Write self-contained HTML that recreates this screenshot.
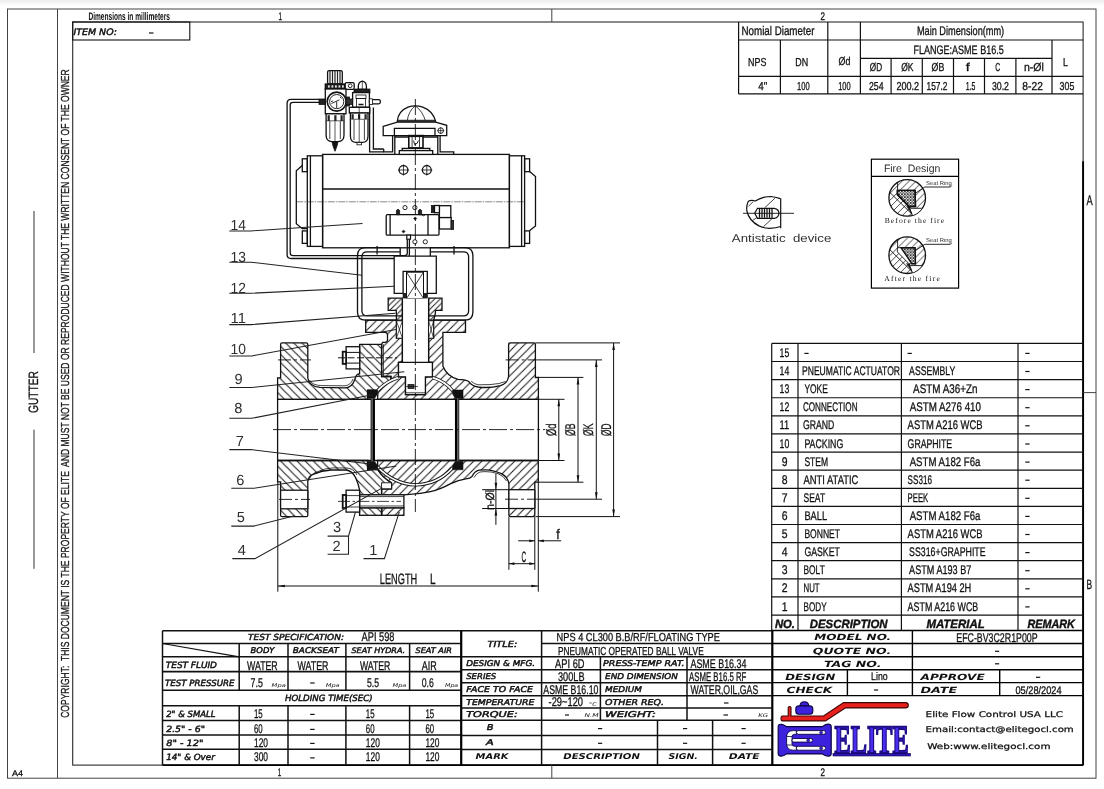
<!DOCTYPE html>
<html lang="en"><head><meta charset="utf-8"><title>EFC-BV3C2R1P00P Pneumatic Operated Ball Valve</title>
<style>
html,body{margin:0;padding:0;background:#fff;}
body{width:1104px;height:789px;overflow:hidden;}
svg{display:block;will-change:transform;transform:translateZ(0);}
text{font-family:"Liberation Sans",sans-serif;fill:#111;text-rendering:geometricPrecision;}
.n{font-family:"Liberation Sans",sans-serif;stroke:#111;stroke-width:0.3;}
.nb{font-family:"Liberation Sans",sans-serif;font-weight:bold;}
.nbi{font-family:"Liberation Sans",sans-serif;font-weight:bold;font-style:italic;stroke:#111;stroke-width:0.4;}
.lt{font-family:"Liberation Sans",sans-serif;fill:#2e2e2e;}
.d{font-family:"DejaVu Sans",sans-serif;stroke:#111;stroke-width:0.25;}
.di{font-family:"DejaVu Sans",sans-serif;font-style:italic;stroke:#111;stroke-width:0.45;}
.dit{font-family:"DejaVu Sans",sans-serif;font-style:italic;}
.dbi{font-family:"DejaVu Sans",sans-serif;font-style:italic;font-weight:bold;}
.sf{font-family:"Liberation Serif",serif;}
.logo{font-family:"Liberation Serif",serif;font-weight:bold;fill:#4a2ef0;stroke:#1d0c86;stroke-width:1.9;}
</style></head><body>
<svg width="1104" height="789" viewBox="0 0 1104 789">
<defs>
<pattern id="ha" width="8.2" height="8.2" patternUnits="userSpaceOnUse"><path d="M-1,9.2 L9.2,-1 M-1,1 L1,-1 M7.2,9.2 L9.2,7.2" stroke="#1a1a1a" stroke-width="1.05" fill="none"/></pattern>
<pattern id="hb" width="8.2" height="8.2" patternUnits="userSpaceOnUse"><path d="M-1,-1 L9.2,9.2 M7.2,-1 L9.2,1 M-1,7.2 L1,9.2" stroke="#1a1a1a" stroke-width="1.05" fill="none"/></pattern>
<pattern id="hg" width="5.6" height="5.6" patternUnits="userSpaceOnUse"><path d="M-1,6.6 L6.6,-1 M-1,1 L1,-1 M4.6,6.6 L6.6,4.6" stroke="#1a1a1a" stroke-width="0.95" fill="none"/></pattern>
<pattern id="hf" width="6.9" height="6.9" patternUnits="userSpaceOnUse"><path d="M-1,7.9 L7.9,-1 M-1,1 L1,-1 M5.9,7.9 L7.9,5.9" stroke="#1a1a1a" stroke-width="0.8" fill="none"/></pattern>
<pattern id="hs" width="3" height="3" patternUnits="userSpaceOnUse"><path d="M-1,4 L4,-1 M-1,1 L1,-1 M2,4 L4,2" stroke="#1a1a1a" stroke-width="0.6" fill="none"/></pattern>
<pattern id="hx" width="2.9" height="2.9" patternUnits="userSpaceOnUse"><path d="M0,0 L2.9,2.9 M2.9,0 L0,2.9" stroke="#111" stroke-width="0.8" fill="none"/></pattern>
<linearGradient id="tg" x1="0" y1="0" x2="0" y2="1"><stop offset="0" stop-color="#ededed"/><stop offset="1" stop-color="#ffffff"/></linearGradient>
</defs>
<rect x="0" y="0" width="1104" height="789" fill="#fff"/>
<rect x="0" y="0" width="1104" height="6" fill="url(#tg)"/>
<g id="frame">
<rect x="7.5" y="9" width="1088.5" height="769.2" stroke="#444" stroke-width="1" fill="none" />
<line x1="57.5" y1="9" x2="57.5" y2="778.2" stroke="#444" stroke-width="1" />
<rect x="72.7" y="22" width="1010.4" height="743.1" stroke="#2a2a2a" stroke-width="1.1" fill="none" />
<line x1="1083.1" y1="161.3" x2="1083.1" y2="765.1" stroke="#000" stroke-width="1.9" />
<line x1="162.5" y1="765.1" x2="1083.1" y2="765.1" stroke="#000" stroke-width="1.6" />
<line x1="551.8" y1="9" x2="551.8" y2="22" stroke="#444" stroke-width="1" />
<line x1="551.8" y1="765.1" x2="551.8" y2="778.2" stroke="#444" stroke-width="1" />
<line x1="1083.2" y1="392.6" x2="1096" y2="392.6" stroke="#444" stroke-width="1" />
<text x="280.2" y="19.5" class="n" font-size="11" text-anchor="middle" textLength="3.5" lengthAdjust="spacingAndGlyphs" >1</text>
<text x="822.8" y="19.5" class="n" font-size="11" text-anchor="middle" textLength="4.5" lengthAdjust="spacingAndGlyphs" >2</text>
<text x="279.5" y="775.5" class="n" font-size="11" text-anchor="middle" textLength="3.5" lengthAdjust="spacingAndGlyphs" >1</text>
<text x="822.8" y="775.5" class="n" font-size="11" text-anchor="middle" textLength="4.5" lengthAdjust="spacingAndGlyphs" >2</text>
<text x="1086.4" y="204.6" class="n" font-size="13.8" textLength="6.2" lengthAdjust="spacingAndGlyphs" >A</text>
<text x="1086.4" y="589.3" class="n" font-size="13.4" textLength="5.6" lengthAdjust="spacingAndGlyphs" >B</text>
<text x="12" y="776" class="n" font-size="8" textLength="11" lengthAdjust="spacingAndGlyphs" >A4</text>
<text x="88.4" y="19.5" class="nb" font-size="11" textLength="81.6" lengthAdjust="spacingAndGlyphs" >Dimensions in millimeters</text>
<rect x="72.7" y="22" width="117.1" height="18" stroke="#111" stroke-width="1.1" fill="none" />
<text x="73.4" y="35" class="di" font-size="9" textLength="43.6" lengthAdjust="spacingAndGlyphs" >ITEM NO:</text>
<line x1="149" y1="33" x2="153.5" y2="33" stroke="#111" stroke-width="1.2" />
<g transform="translate(37.9,413) rotate(-90)">
<text x="0" y="0" class="n" font-size="13.5" textLength="42" lengthAdjust="spacingAndGlyphs" >GUTTER</text>
</g>
<line x1="34" y1="211" x2="34" y2="353" stroke="#333" stroke-width="1" />
<line x1="34" y1="429.7" x2="34" y2="568.8" stroke="#333" stroke-width="1" />
<g transform="translate(69,717.8) rotate(-90)">
<text x="0" y="0" class="n" font-size="11.6" textLength="648.5" lengthAdjust="spacingAndGlyphs" xml:space="preserve">COPYRIGHT:  THIS DOCUMENT IS THE PROPERTY OF ELITE  AND MUST NOT BE USED OR REPRODUCED WITHOUT THE WRITTEN CONSENT OF THE OWNER</text>
</g>
</g>
<g id="toptable">
<line x1="738.6" y1="22" x2="738.6" y2="93.9" stroke="#111" stroke-width="1.2" />
<line x1="738.6" y1="93.9" x2="1083.2" y2="93.9" stroke="#111" stroke-width="1.2" />
<line x1="738.6" y1="40" x2="1083.2" y2="40" stroke="#111" stroke-width="1.2" />
<line x1="860.4" y1="58.3" x2="1052" y2="58.3" stroke="#111" stroke-width="1.2" />
<line x1="738.6" y1="76.4" x2="1083.2" y2="76.4" stroke="#111" stroke-width="1.2" />
<line x1="780.4" y1="40" x2="780.4" y2="93.9" stroke="#111" stroke-width="1.2" />
<line x1="827.8" y1="22" x2="827.8" y2="93.9" stroke="#111" stroke-width="1.2" />
<line x1="860.4" y1="22" x2="860.4" y2="93.9" stroke="#111" stroke-width="1.2" />
<line x1="891.1" y1="58.3" x2="891.1" y2="93.9" stroke="#111" stroke-width="1.2" />
<line x1="922.3" y1="58.3" x2="922.3" y2="93.9" stroke="#111" stroke-width="1.2" />
<line x1="953.5" y1="58.3" x2="953.5" y2="93.9" stroke="#111" stroke-width="1.2" />
<line x1="984.5" y1="58.3" x2="984.5" y2="93.9" stroke="#111" stroke-width="1.2" />
<line x1="1015.9" y1="58.3" x2="1015.9" y2="93.9" stroke="#111" stroke-width="1.2" />
<line x1="1052" y1="40" x2="1052" y2="93.9" stroke="#111" stroke-width="1.2" />
<text x="741.5" y="35.3" class="n" font-size="12.5" textLength="72.9" lengthAdjust="spacingAndGlyphs" >Nomial Diameter</text>
<text x="916.9" y="35.3" class="n" font-size="12.5" textLength="87.3" lengthAdjust="spacingAndGlyphs" >Main Dimension(mm)</text>
<text x="913.5" y="54" class="n" font-size="12.3" textLength="90.2" lengthAdjust="spacingAndGlyphs" >FLANGE:ASME B16.5</text>
<text x="748.1" y="65.5" class="n" font-size="11.5" textLength="18.3" lengthAdjust="spacingAndGlyphs" >NPS</text>
<text x="795.3" y="65.5" class="n" font-size="11.5" textLength="12.9" lengthAdjust="spacingAndGlyphs" >DN</text>
<text x="838.6" y="64.6" class="n" font-size="11.5" textLength="11.8" lengthAdjust="spacingAndGlyphs" >Ød</text>
<text x="869.8" y="70.6" class="n" font-size="11.5" textLength="12.3" lengthAdjust="spacingAndGlyphs" >ØD</text>
<text x="901.2" y="70.6" class="n" font-size="11.5" textLength="12.3" lengthAdjust="spacingAndGlyphs" >ØK</text>
<text x="931.6" y="70.6" class="n" font-size="11.5" textLength="12.7" lengthAdjust="spacingAndGlyphs" >ØB</text>
<text x="965.8" y="70.6" class="n" font-size="11.5" textLength="4.0" lengthAdjust="spacingAndGlyphs" >f</text>
<text x="995.3" y="70.6" class="n" font-size="11.5" textLength="5.0" lengthAdjust="spacingAndGlyphs" >C</text>
<text x="1023.9" y="70.6" class="n" font-size="11.5" textLength="19.9" lengthAdjust="spacingAndGlyphs" >n-Øl</text>
<text x="1062.9" y="65.6" class="n" font-size="11.5" textLength="4.9" lengthAdjust="spacingAndGlyphs" >L</text>
<text x="758.2" y="90.4" class="n" font-size="11.5" textLength="9.0" lengthAdjust="spacingAndGlyphs" >4"</text>
<text x="797" y="90.4" class="n" font-size="11.5" textLength="12.6" lengthAdjust="spacingAndGlyphs" >100</text>
<text x="838.2" y="90.4" class="n" font-size="11.5" textLength="12.5" lengthAdjust="spacingAndGlyphs" >100</text>
<text x="869" y="90.4" class="n" font-size="11.5" textLength="14.6" lengthAdjust="spacingAndGlyphs" >254</text>
<text x="896.4" y="90.4" class="n" font-size="11.5" textLength="22.8" lengthAdjust="spacingAndGlyphs" >200.2</text>
<text x="926.5" y="90.4" class="n" font-size="11.5" textLength="20.9" lengthAdjust="spacingAndGlyphs" >157.2</text>
<text x="965.8" y="90.4" class="n" font-size="11.5" textLength="9.6" lengthAdjust="spacingAndGlyphs" >1.5</text>
<text x="991.9" y="90.4" class="n" font-size="11.5" textLength="17.1" lengthAdjust="spacingAndGlyphs" >30.2</text>
<text x="1022.3" y="90.4" class="n" font-size="11.5" textLength="20.6" lengthAdjust="spacingAndGlyphs" >8-22</text>
<text x="1059.6" y="90.4" class="n" font-size="11.5" textLength="14.7" lengthAdjust="spacingAndGlyphs" >305</text>
</g>
<g id="parts">
<line x1="771.7" y1="343.4" x2="1083.2" y2="343.4" stroke="#111" stroke-width="1.2" />
<line x1="771.7" y1="343.4" x2="771.7" y2="630.5" stroke="#111" stroke-width="1.2" />
<line x1="798" y1="343.4" x2="798" y2="630.5" stroke="#111" stroke-width="1.2" />
<line x1="901.4" y1="343.4" x2="901.4" y2="630.5" stroke="#111" stroke-width="1.2" />
<line x1="1018" y1="343.4" x2="1018" y2="630.5" stroke="#111" stroke-width="1.2" />
<line x1="771.7" y1="361.51" x2="1083.2" y2="361.51" stroke="#111" stroke-width="1.2" />
<line x1="771.7" y1="379.62" x2="1083.2" y2="379.62" stroke="#111" stroke-width="1.2" />
<line x1="771.7" y1="397.73" x2="1083.2" y2="397.73" stroke="#111" stroke-width="1.2" />
<line x1="771.7" y1="415.84" x2="1083.2" y2="415.84" stroke="#111" stroke-width="1.2" />
<line x1="771.7" y1="433.95" x2="1083.2" y2="433.95" stroke="#111" stroke-width="1.2" />
<line x1="771.7" y1="452.06" x2="1083.2" y2="452.06" stroke="#111" stroke-width="1.2" />
<line x1="771.7" y1="470.17" x2="1083.2" y2="470.17" stroke="#111" stroke-width="1.2" />
<line x1="771.7" y1="488.28" x2="1083.2" y2="488.28" stroke="#111" stroke-width="1.2" />
<line x1="771.7" y1="506.39" x2="1083.2" y2="506.39" stroke="#111" stroke-width="1.2" />
<line x1="771.7" y1="524.5" x2="1083.2" y2="524.5" stroke="#111" stroke-width="1.2" />
<line x1="771.7" y1="542.61" x2="1083.2" y2="542.61" stroke="#111" stroke-width="1.2" />
<line x1="771.7" y1="560.72" x2="1083.2" y2="560.72" stroke="#111" stroke-width="1.2" />
<line x1="771.7" y1="578.83" x2="1083.2" y2="578.83" stroke="#111" stroke-width="1.2" />
<line x1="771.7" y1="596.94" x2="1083.2" y2="596.94" stroke="#111" stroke-width="1.2" />
<line x1="771.7" y1="615.05" x2="1083.2" y2="615.05" stroke="#111" stroke-width="1.2" />
<text x="779.6" y="357.0" class="n" font-size="12.5" textLength="9.7" lengthAdjust="spacingAndGlyphs" >15</text>
<line x1="804.4" y1="353.4" x2="808.6" y2="353.4" stroke="#111" stroke-width="1.2" />
<line x1="907.6" y1="353.4" x2="911.8" y2="353.4" stroke="#111" stroke-width="1.2" />
<line x1="1025.3" y1="353.4" x2="1029.6" y2="353.4" stroke="#111" stroke-width="1.2" />
<text x="779.6" y="375.1" class="n" font-size="12.5" textLength="9.7" lengthAdjust="spacingAndGlyphs" >14</text>
<text x="802" y="375.1" class="n" font-size="12.5" textLength="98" lengthAdjust="spacingAndGlyphs" >PNEUMATIC ACTUATOR</text>
<text x="909.1" y="375.1" class="n" font-size="12.5" textLength="46.1" lengthAdjust="spacingAndGlyphs" >ASSEMBLY</text>
<line x1="1025.3" y1="371.5" x2="1029.6" y2="371.5" stroke="#111" stroke-width="1.2" />
<text x="779.6" y="393.2" class="n" font-size="12.5" textLength="9.7" lengthAdjust="spacingAndGlyphs" >13</text>
<text x="804.4" y="393.2" class="n" font-size="12.5" textLength="23.4" lengthAdjust="spacingAndGlyphs" >YOKE</text>
<text x="913.1" y="393.2" class="n" font-size="12.5" textLength="64.3" lengthAdjust="spacingAndGlyphs" >ASTM A36+Zn</text>
<line x1="1025.3" y1="389.59999999999997" x2="1029.6" y2="389.59999999999997" stroke="#111" stroke-width="1.2" />
<text x="779.6" y="411.3" class="n" font-size="12.5" textLength="9.7" lengthAdjust="spacingAndGlyphs" >12</text>
<text x="802.9" y="411.3" class="n" font-size="12.5" textLength="54.6" lengthAdjust="spacingAndGlyphs" >CONNECTION</text>
<text x="909.7" y="411.3" class="n" font-size="12.5" textLength="71.3" lengthAdjust="spacingAndGlyphs" >ASTM A276 410</text>
<line x1="1025.3" y1="407.7" x2="1029.6" y2="407.7" stroke="#111" stroke-width="1.2" />
<text x="779.6" y="429.4" class="n" font-size="12.5" textLength="9.7" lengthAdjust="spacingAndGlyphs" >11</text>
<text x="802.9" y="429.4" class="n" font-size="12.5" textLength="31.3" lengthAdjust="spacingAndGlyphs" >GRAND</text>
<text x="907.6" y="429.4" class="n" font-size="12.5" textLength="74.9" lengthAdjust="spacingAndGlyphs" >ASTM A216 WCB</text>
<line x1="1025.3" y1="425.79999999999995" x2="1029.6" y2="425.79999999999995" stroke="#111" stroke-width="1.2" />
<text x="779.6" y="447.6" class="n" font-size="12.5" textLength="9.7" lengthAdjust="spacingAndGlyphs" >10</text>
<text x="804.4" y="447.6" class="n" font-size="12.5" textLength="38.9" lengthAdjust="spacingAndGlyphs" >PACKING</text>
<text x="907.6" y="447.6" class="n" font-size="12.5" textLength="44.6" lengthAdjust="spacingAndGlyphs" >GRAPHITE</text>
<line x1="1025.3" y1="444.0" x2="1029.6" y2="444.0" stroke="#111" stroke-width="1.2" />
<text x="781.8" y="465.7" class="n" font-size="12.5" textLength="5.8" lengthAdjust="spacingAndGlyphs" >9</text>
<text x="804.4" y="465.7" class="n" font-size="12.5" textLength="23.7" lengthAdjust="spacingAndGlyphs" >STEM</text>
<text x="909.7" y="465.7" class="n" font-size="12.5" textLength="70.7" lengthAdjust="spacingAndGlyphs" >ASTM A182 F6a</text>
<line x1="1025.3" y1="462.09999999999997" x2="1029.6" y2="462.09999999999997" stroke="#111" stroke-width="1.2" />
<text x="781.8" y="483.8" class="n" font-size="12.5" textLength="5.8" lengthAdjust="spacingAndGlyphs" >8</text>
<text x="803.5" y="483.8" class="n" font-size="12.5" textLength="54.9" lengthAdjust="spacingAndGlyphs" >ANTI ATATIC</text>
<text x="907.6" y="483.8" class="n" font-size="12.5" textLength="24.3" lengthAdjust="spacingAndGlyphs" >SS316</text>
<line x1="1025.3" y1="480.2" x2="1029.6" y2="480.2" stroke="#111" stroke-width="1.2" />
<text x="781.8" y="501.9" class="n" font-size="12.5" textLength="5.8" lengthAdjust="spacingAndGlyphs" >7</text>
<text x="803.5" y="501.9" class="n" font-size="12.5" textLength="21.6" lengthAdjust="spacingAndGlyphs" >SEAT</text>
<text x="907.6" y="501.9" class="n" font-size="12.5" textLength="20.6" lengthAdjust="spacingAndGlyphs" >PEEK</text>
<line x1="1025.3" y1="498.29999999999995" x2="1029.6" y2="498.29999999999995" stroke="#111" stroke-width="1.2" />
<text x="781.8" y="520.0" class="n" font-size="12.5" textLength="5.8" lengthAdjust="spacingAndGlyphs" >6</text>
<text x="804.4" y="520.0" class="n" font-size="12.5" textLength="22.8" lengthAdjust="spacingAndGlyphs" >BALL</text>
<text x="909.7" y="520.0" class="n" font-size="12.5" textLength="70.7" lengthAdjust="spacingAndGlyphs" >ASTM A182 F6a</text>
<line x1="1025.3" y1="516.4" x2="1029.6" y2="516.4" stroke="#111" stroke-width="1.2" />
<text x="781.8" y="538.1" class="n" font-size="12.5" textLength="5.8" lengthAdjust="spacingAndGlyphs" >5</text>
<text x="804.4" y="538.1" class="n" font-size="12.5" textLength="35.6" lengthAdjust="spacingAndGlyphs" >BONNET</text>
<text x="907.6" y="538.1" class="n" font-size="12.5" textLength="74.9" lengthAdjust="spacingAndGlyphs" >ASTM A216 WCB</text>
<line x1="1025.3" y1="534.5" x2="1029.6" y2="534.5" stroke="#111" stroke-width="1.2" />
<text x="781.8" y="556.2" class="n" font-size="12.5" textLength="5.8" lengthAdjust="spacingAndGlyphs" >4</text>
<text x="804.4" y="556.2" class="n" font-size="12.5" textLength="35.5" lengthAdjust="spacingAndGlyphs" >GASKET</text>
<text x="909.1" y="556.2" class="n" font-size="12.5" textLength="76.5" lengthAdjust="spacingAndGlyphs" >SS316+GRAPHITE</text>
<line x1="1025.3" y1="552.6" x2="1029.6" y2="552.6" stroke="#111" stroke-width="1.2" />
<text x="781.8" y="574.3" class="n" font-size="12.5" textLength="5.8" lengthAdjust="spacingAndGlyphs" >3</text>
<text x="803.5" y="574.3" class="n" font-size="12.5" textLength="21.3" lengthAdjust="spacingAndGlyphs" >BOLT</text>
<text x="909.1" y="574.3" class="n" font-size="12.5" textLength="62.2" lengthAdjust="spacingAndGlyphs" >ASTM A193 B7</text>
<line x1="1025.3" y1="570.6999999999999" x2="1029.6" y2="570.6999999999999" stroke="#111" stroke-width="1.2" />
<text x="781.8" y="592.4" class="n" font-size="12.5" textLength="5.8" lengthAdjust="spacingAndGlyphs" >2</text>
<text x="803.5" y="592.4" class="n" font-size="12.5" textLength="16.1" lengthAdjust="spacingAndGlyphs" >NUT</text>
<text x="907.6" y="592.4" class="n" font-size="12.5" textLength="63.7" lengthAdjust="spacingAndGlyphs" >ASTM A194 2H</text>
<line x1="1025.3" y1="588.8" x2="1029.6" y2="588.8" stroke="#111" stroke-width="1.2" />
<text x="781.8" y="610.5" class="n" font-size="12.5" textLength="5.8" lengthAdjust="spacingAndGlyphs" >1</text>
<text x="803.5" y="610.5" class="n" font-size="12.5" textLength="23.1" lengthAdjust="spacingAndGlyphs" >BODY</text>
<text x="907.6" y="610.5" class="n" font-size="12.5" textLength="70.7" lengthAdjust="spacingAndGlyphs" >ASTM A216 WCB</text>
<line x1="1025.3" y1="606.9" x2="1029.6" y2="606.9" stroke="#111" stroke-width="1.2" />
<line x1="771.7" y1="630.5" x2="1083.2" y2="630.5" stroke="#000" stroke-width="1.6" />
<text x="774.9" y="627.6" class="nbi" font-size="12" textLength="20.0" lengthAdjust="spacingAndGlyphs" >NO.</text>
<text x="809.8" y="627.6" class="nbi" font-size="12" textLength="77.8" lengthAdjust="spacingAndGlyphs" >DESCRIPTION</text>
<text x="926.4" y="627.6" class="nbi" font-size="12" textLength="58.3" lengthAdjust="spacingAndGlyphs" >MATERIAL</text>
<text x="1027.4" y="627.6" class="nbi" font-size="12" textLength="47.5" lengthAdjust="spacingAndGlyphs" >REMARK</text>
</g>
<g id="titleblock">
<line x1="162.5" y1="630.8" x2="162.5" y2="765.1" stroke="#111" stroke-width="1.5" />
<line x1="162.5" y1="630.8" x2="772.3" y2="630.8" stroke="#111" stroke-width="1.5" />
<line x1="162.5" y1="643.5" x2="461.2" y2="643.5" stroke="#111" stroke-width="1.5" />
<line x1="162.5" y1="656.8" x2="461.2" y2="656.8" stroke="#111" stroke-width="1.5" />
<line x1="162.5" y1="671.6" x2="461.2" y2="671.6" stroke="#111" stroke-width="1.6" />
<line x1="162.5" y1="690.3" x2="461.2" y2="690.3" stroke="#111" stroke-width="1.5" />
<line x1="162.5" y1="705.8" x2="461.2" y2="705.8" stroke="#111" stroke-width="1.5" />
<line x1="162.5" y1="720.6" x2="461.2" y2="720.6" stroke="#111" stroke-width="1.5" />
<line x1="162.5" y1="735.1" x2="461.2" y2="735.1" stroke="#111" stroke-width="1.5" />
<line x1="162.5" y1="749.2" x2="461.2" y2="749.2" stroke="#111" stroke-width="1.5" />
<line x1="239.2" y1="643.5" x2="239.2" y2="690.3" stroke="#111" stroke-width="1.5" />
<line x1="239.2" y1="705.8" x2="239.2" y2="765.1" stroke="#111" stroke-width="1.5" />
<line x1="288" y1="643.5" x2="288" y2="690.3" stroke="#111" stroke-width="1.5" />
<line x1="288" y1="705.8" x2="288" y2="765.1" stroke="#111" stroke-width="1.5" />
<line x1="345.9" y1="643.5" x2="345.9" y2="690.3" stroke="#111" stroke-width="1.5" />
<line x1="345.9" y1="705.8" x2="345.9" y2="765.1" stroke="#111" stroke-width="1.5" />
<line x1="409.6" y1="643.5" x2="409.6" y2="690.3" stroke="#111" stroke-width="1.5" />
<line x1="409.6" y1="705.8" x2="409.6" y2="765.1" stroke="#111" stroke-width="1.5" />
<line x1="162.5" y1="643.5" x2="239.2" y2="656.8" stroke="#111" stroke-width="1.2" />
<text x="248" y="639.9" class="di" font-size="8.4" textLength="96" lengthAdjust="spacingAndGlyphs" >TEST SPECIFICATION:</text>
<text x="361.6" y="641" class="n" font-size="12.6" textLength="32.9" lengthAdjust="spacingAndGlyphs" >API 598</text>
<text x="250.6" y="652.8" class="di" font-size="8" textLength="23.9" lengthAdjust="spacingAndGlyphs" >BODY</text>
<text x="292.8" y="652.8" class="di" font-size="8" textLength="46.1" lengthAdjust="spacingAndGlyphs" >BACKSEAT</text>
<text x="351.5" y="652.8" class="di" font-size="7.6" textLength="53.7" lengthAdjust="spacingAndGlyphs" >SEAT HYDRA.</text>
<text x="415.5" y="652.8" class="di" font-size="7.6" textLength="36.5" lengthAdjust="spacingAndGlyphs" >SEAT AIR</text>
<text x="165.8" y="667.9" class="di" font-size="8.6" textLength="51.2" lengthAdjust="spacingAndGlyphs" >TEST FLUID</text>
<text x="165" y="686.4" class="di" font-size="8.6" textLength="69.6" lengthAdjust="spacingAndGlyphs" >TEST PRESSURE</text>
<text x="247" y="669.6" class="n" font-size="12.6" textLength="30.7" lengthAdjust="spacingAndGlyphs" >WATER</text>
<text x="297.6" y="669.6" class="n" font-size="12.6" textLength="30.9" lengthAdjust="spacingAndGlyphs" >WATER</text>
<text x="360" y="669.6" class="n" font-size="12.6" textLength="30.3" lengthAdjust="spacingAndGlyphs" >WATER</text>
<text x="421.7" y="669.6" class="n" font-size="12.6" textLength="14.9" lengthAdjust="spacingAndGlyphs" >AIR</text>
<text x="250.6" y="686.7" class="n" font-size="12.6" textLength="12.3" lengthAdjust="spacingAndGlyphs" >7.5</text>
<line x1="310.2" y1="683" x2="314.6" y2="683" stroke="#111" stroke-width="1.2" />
<text x="367" y="686.7" class="n" font-size="12.6" textLength="12" lengthAdjust="spacingAndGlyphs" >5.5</text>
<text x="421.7" y="686.7" class="n" font-size="12.6" textLength="12.1" lengthAdjust="spacingAndGlyphs" >0.6</text>
<text x="271.6" y="686.9" class="dit" font-size="5" textLength="14.2" lengthAdjust="spacingAndGlyphs" >Mpa</text>
<text x="325.7" y="686.9" class="dit" font-size="5" textLength="14.0" lengthAdjust="spacingAndGlyphs" >Mpa</text>
<text x="392.5" y="686.9" class="dit" font-size="5" textLength="13.8" lengthAdjust="spacingAndGlyphs" >Mpa</text>
<text x="445" y="686.9" class="dit" font-size="5" textLength="13.2" lengthAdjust="spacingAndGlyphs" >Mpa</text>
<text x="285" y="701.4" class="di" font-size="8.6" textLength="87.6" lengthAdjust="spacingAndGlyphs" >HOLDING TIME(SEC)</text>
<text x="166.2" y="716.8" class="di" font-size="8.6" textLength="49.4" lengthAdjust="spacingAndGlyphs" >2" &amp; SMALL</text>
<text x="166.2" y="731.7" class="di" font-size="8.6" textLength="38.8" lengthAdjust="spacingAndGlyphs" >2.5" - 6"</text>
<text x="166.2" y="745.6" class="di" font-size="8.6" textLength="37.3" lengthAdjust="spacingAndGlyphs" >8" - 12"</text>
<text x="166.2" y="759.8" class="di" font-size="8.6" textLength="48.6" lengthAdjust="spacingAndGlyphs" >14" &amp; Over</text>
<text x="254" y="717.9" class="n" font-size="12.6" textLength="8.7" lengthAdjust="spacingAndGlyphs" >15</text>
<line x1="310.2" y1="714.4" x2="314.6" y2="714.4" stroke="#111" stroke-width="1.2" />
<text x="365.8" y="717.9" class="n" font-size="12.6" textLength="8.7" lengthAdjust="spacingAndGlyphs" >15</text>
<text x="425.4" y="717.9" class="n" font-size="12.6" textLength="8.7" lengthAdjust="spacingAndGlyphs" >15</text>
<text x="254" y="732.9" class="n" font-size="12.6" textLength="8.7" lengthAdjust="spacingAndGlyphs" >60</text>
<line x1="310.2" y1="729.4" x2="314.6" y2="729.4" stroke="#111" stroke-width="1.2" />
<text x="365.8" y="732.9" class="n" font-size="12.6" textLength="8.7" lengthAdjust="spacingAndGlyphs" >60</text>
<text x="425.4" y="732.9" class="n" font-size="12.6" textLength="8.7" lengthAdjust="spacingAndGlyphs" >60</text>
<text x="254" y="746.9" class="n" font-size="12.6" textLength="14" lengthAdjust="spacingAndGlyphs" >120</text>
<line x1="310.2" y1="743.4" x2="314.6" y2="743.4" stroke="#111" stroke-width="1.2" />
<text x="365.8" y="746.9" class="n" font-size="12.6" textLength="14.0" lengthAdjust="spacingAndGlyphs" >120</text>
<text x="425.4" y="746.9" class="n" font-size="12.6" textLength="14.0" lengthAdjust="spacingAndGlyphs" >120</text>
<text x="254" y="761.4" class="n" font-size="12.6" textLength="14" lengthAdjust="spacingAndGlyphs" >300</text>
<line x1="310.2" y1="757.9" x2="314.6" y2="757.9" stroke="#111" stroke-width="1.2" />
<text x="365.8" y="761.4" class="n" font-size="12.6" textLength="14.0" lengthAdjust="spacingAndGlyphs" >120</text>
<text x="425.4" y="761.4" class="n" font-size="12.6" textLength="14.0" lengthAdjust="spacingAndGlyphs" >120</text>
<line x1="461.2" y1="630.8" x2="461.2" y2="765.1" stroke="#000" stroke-width="2.2" />
<line x1="772.3" y1="630.8" x2="772.3" y2="765.1" stroke="#000" stroke-width="2.2" />
<line x1="541.6" y1="643.4" x2="772.3" y2="643.4" stroke="#111" stroke-width="1.5" />
<line x1="461.2" y1="656.7" x2="772.3" y2="656.7" stroke="#111" stroke-width="1.5" />
<line x1="461.2" y1="669.8" x2="772.3" y2="669.8" stroke="#111" stroke-width="1.5" />
<line x1="461.2" y1="682.7" x2="772.3" y2="682.7" stroke="#111" stroke-width="1.5" />
<line x1="461.2" y1="695.8" x2="772.3" y2="695.8" stroke="#111" stroke-width="1.5" />
<line x1="461.2" y1="708.1" x2="772.3" y2="708.1" stroke="#111" stroke-width="1.5" />
<line x1="461.2" y1="720.2" x2="772.3" y2="720.2" stroke="#111" stroke-width="1.5" />
<line x1="461.2" y1="735.4" x2="772.3" y2="735.4" stroke="#111" stroke-width="1.5" />
<line x1="461.2" y1="749.5" x2="772.3" y2="749.5" stroke="#111" stroke-width="1.5" />
<line x1="541.6" y1="630.8" x2="541.6" y2="765.1" stroke="#111" stroke-width="1.5" />
<line x1="600.4" y1="656.8" x2="600.4" y2="720.2" stroke="#111" stroke-width="1.5" />
<line x1="687" y1="656.8" x2="687" y2="720.2" stroke="#111" stroke-width="1.5" />
<line x1="657.5" y1="720.2" x2="657.5" y2="765.1" stroke="#111" stroke-width="1.5" />
<line x1="712.6" y1="720.2" x2="712.6" y2="765.1" stroke="#111" stroke-width="1.5" />
<text x="487.4" y="647.1" class="di" font-size="8.4" textLength="30.0" lengthAdjust="spacingAndGlyphs" >TITLE:</text>
<text x="556.6" y="641.2" class="n" font-size="11.5" textLength="163.3" lengthAdjust="spacingAndGlyphs" >NPS 4 CL300 B.B/RF/FLOATING TYPE</text>
<text x="558" y="655.3" class="n" font-size="11.5" textLength="145.7" lengthAdjust="spacingAndGlyphs" >PNEUMATIC OPERATED BALL VALVE</text>
<text x="466.2" y="665.5" class="di" font-size="8" textLength="68.9" lengthAdjust="spacingAndGlyphs" >DESIGN &amp; MFG.</text>
<text x="466.2" y="678.9" class="di" font-size="8" textLength="30.0" lengthAdjust="spacingAndGlyphs" >SERIES</text>
<text x="466.2" y="691.8" class="di" font-size="8" textLength="66.8" lengthAdjust="spacingAndGlyphs" >FACE TO FACE</text>
<text x="466.2" y="704.8" class="di" font-size="8" textLength="68.3" lengthAdjust="spacingAndGlyphs" >TEMPERATURE</text>
<text x="466.2" y="716.6" class="di" font-size="8" textLength="51.5" lengthAdjust="spacingAndGlyphs" >TORQUE:</text>
<text x="603.1" y="665.5" class="di" font-size="8" textLength="81.5" lengthAdjust="spacingAndGlyphs" >PRESS-TEMP RAT.</text>
<text x="605.1" y="678.9" class="di" font-size="8" textLength="72.7" lengthAdjust="spacingAndGlyphs" >END DIMENSION</text>
<text x="605.1" y="691.8" class="di" font-size="8" textLength="36.8" lengthAdjust="spacingAndGlyphs" >MEDIUM</text>
<text x="605.1" y="704.8" class="di" font-size="8" textLength="58.9" lengthAdjust="spacingAndGlyphs" >OTHER REQ.</text>
<text x="605.1" y="716.6" class="di" font-size="8" textLength="50.9" lengthAdjust="spacingAndGlyphs" >WEIGHT:</text>
<text x="555.1" y="668.3" class="n" font-size="12.6" textLength="29.4" lengthAdjust="spacingAndGlyphs" >API 6D</text>
<text x="558" y="680.9" class="n" font-size="12.6" textLength="26.5" lengthAdjust="spacingAndGlyphs" >300LB</text>
<text x="543.3" y="693.5" class="n" font-size="12.6" textLength="55.1" lengthAdjust="spacingAndGlyphs" >ASME B16.10</text>
<text x="548.6" y="706.2" class="n" font-size="12.6" textLength="34.4" lengthAdjust="spacingAndGlyphs" >-29~120</text>
<text x="589" y="706" class="dit" font-size="5" textLength="7.5" lengthAdjust="spacingAndGlyphs" >°C</text>
<text x="690.5" y="668.3" class="n" font-size="12.6" textLength="55.9" lengthAdjust="spacingAndGlyphs" >ASME B16.34</text>
<text x="689" y="680.9" class="n" font-size="12.6" textLength="57.4" lengthAdjust="spacingAndGlyphs" >ASME B16.5 RF</text>
<text x="690.5" y="693.5" class="n" font-size="12.6" textLength="67.7" lengthAdjust="spacingAndGlyphs" >WATER,OIL,GAS</text>
<line x1="724" y1="703" x2="728.5" y2="703" stroke="#111" stroke-width="1.2" />
<line x1="565" y1="715" x2="569" y2="715" stroke="#111" stroke-width="1.2" />
<text x="584.5" y="717.1" class="dit" font-size="5" textLength="14.2" lengthAdjust="spacingAndGlyphs" >N.M</text>
<line x1="723.5" y1="715" x2="728" y2="715" stroke="#111" stroke-width="1.2" />
<text x="758.2" y="717.1" class="dit" font-size="5" textLength="9.8" lengthAdjust="spacingAndGlyphs" >KG</text>
<text x="486.8" y="730.1" class="di" font-size="8" textLength="6.8" lengthAdjust="spacingAndGlyphs" >B</text>
<text x="485.9" y="744.8" class="di" font-size="8" textLength="7.7" lengthAdjust="spacingAndGlyphs" >A</text>
<line x1="598" y1="728.6" x2="602.2" y2="728.6" stroke="#111" stroke-width="1.2" />
<line x1="683" y1="728.6" x2="687.2" y2="728.6" stroke="#111" stroke-width="1.2" />
<line x1="741.5" y1="728.6" x2="745.7" y2="728.6" stroke="#111" stroke-width="1.2" />
<line x1="598" y1="743.3" x2="602.2" y2="743.3" stroke="#111" stroke-width="1.2" />
<line x1="683" y1="743.3" x2="687.2" y2="743.3" stroke="#111" stroke-width="1.2" />
<line x1="741.5" y1="743.3" x2="745.7" y2="743.3" stroke="#111" stroke-width="1.2" />
<text x="475.6" y="758.9" class="dbi" font-size="8" textLength="33.0" lengthAdjust="spacingAndGlyphs" >MARK</text>
<text x="563.3" y="758.9" class="dbi" font-size="8" textLength="76.6" lengthAdjust="spacingAndGlyphs" >DESCRIPTION</text>
<text x="668.4" y="758.9" class="dbi" font-size="8" textLength="29.5" lengthAdjust="spacingAndGlyphs" >SIGN.</text>
<text x="728.8" y="758.9" class="dbi" font-size="8" textLength="30.9" lengthAdjust="spacingAndGlyphs" >DATE</text>
<line x1="772.3" y1="643.5" x2="1083.2" y2="643.5" stroke="#000" stroke-width="1.4" />
<line x1="772.3" y1="656.7" x2="1083.2" y2="656.7" stroke="#000" stroke-width="1.4" />
<line x1="772.3" y1="669.8" x2="1083.2" y2="669.8" stroke="#000" stroke-width="1.4" />
<line x1="772.3" y1="682.6" x2="1083.2" y2="682.6" stroke="#000" stroke-width="1.4" />
<line x1="772.3" y1="695.6" x2="1083.2" y2="695.6" stroke="#000" stroke-width="1.4" />
<line x1="912.4" y1="630.5" x2="912.4" y2="695.6" stroke="#000" stroke-width="1.4" />
<line x1="847.4" y1="669.8" x2="847.4" y2="695.6" stroke="#000" stroke-width="1.4" />
<line x1="999.7" y1="669.8" x2="999.7" y2="695.6" stroke="#000" stroke-width="1.4" />
<text x="814.3" y="640.4" class="dbi" font-size="8.6" textLength="76.9" lengthAdjust="spacingAndGlyphs" >MODEL NO.</text>
<text x="812.8" y="653.5" class="dbi" font-size="8.6" textLength="78.4" lengthAdjust="spacingAndGlyphs" >QUOTE NO.</text>
<text x="823.9" y="666.5" class="dbi" font-size="8.6" textLength="57.6" lengthAdjust="spacingAndGlyphs" >TAG NO.</text>
<text x="785.3" y="679.5" class="dbi" font-size="8.6" textLength="50.0" lengthAdjust="spacingAndGlyphs" >DESIGN</text>
<text x="786.5" y="692.8" class="dbi" font-size="8.6" textLength="45.8" lengthAdjust="spacingAndGlyphs" >CHECK</text>
<text x="920.5" y="679.5" class="dbi" font-size="8.6" textLength="64.2" lengthAdjust="spacingAndGlyphs" >APPROVE</text>
<text x="920.5" y="692.8" class="dbi" font-size="8.6" textLength="36.7" lengthAdjust="spacingAndGlyphs" >DATE</text>
<text x="956.3" y="642" class="n" font-size="12.6" textLength="81.3" lengthAdjust="spacingAndGlyphs" >EFC-BV3C2R1P00P</text>
<line x1="995" y1="651.3" x2="999.2" y2="651.3" stroke="#111" stroke-width="1.2" />
<line x1="995" y1="663.8" x2="999.2" y2="663.8" stroke="#111" stroke-width="1.2" />
<text x="871.1" y="680.3" class="n" font-size="11" textLength="16.5" lengthAdjust="spacingAndGlyphs" >Lino</text>
<line x1="874" y1="690" x2="878.2" y2="690" stroke="#111" stroke-width="1.2" />
<line x1="1036" y1="677.3" x2="1040.2" y2="677.3" stroke="#111" stroke-width="1.2" />
<text x="1015.5" y="693.7" class="n" font-size="11" textLength="46.1" lengthAdjust="spacingAndGlyphs" >05/28/2024</text>
<text x="925.6" y="716.5" class="d" font-size="7.9" textLength="137.4" lengthAdjust="spacingAndGlyphs" >Elite Flow Control USA LLC</text>
<text x="925.6" y="732.4" class="d" font-size="7.9" textLength="148.2" lengthAdjust="spacingAndGlyphs" >Email:contact@elitegocl.com</text>
<text x="927.2" y="749.4" class="d" font-size="7.9" textLength="123.3" lengthAdjust="spacingAndGlyphs" >Web:www.elitegocl.com</text>
<path d="M782.5,716 L788.2,716 L788.2,707.5 Q788.2,706.5 789.6,706.5 Q791,706.5 791,707.5 L791,716 L823.5,716 L843.5,702.6 L905.5,702.6 Q908.3,702.6 908.3,705.2 Q908.3,707.9 905.5,707.9 L845.5,707.9 L825.5,720.9 L782.5,720.9 Q781,720.9 781,718.5 Q781,716 782.5,716 Z" stroke="#3a0505" stroke-width="1.1" fill="#e8201c" />
<path d="M800,706 Q800,701.8 804.3,701.8 Q808.7,701.8 808.7,706 Z" stroke="#0c0440" stroke-width="1.1" fill="#3d22dd" />
<rect x="795.8" y="705.9" width="17.0" height="8.3" stroke="#0c0440" stroke-width="1.1" fill="#3d22dd" rx="3" ry="3"/>
<path d="M778.2,727 Q778.2,723.8 781.5,724.3 Q784.5,724.8 786.5,726.6 L822.5,726.6 Q825,724.6 828,724.2 Q831.2,724 831.2,727 L831.2,753.4 Q831.2,756.4 828,756.1 Q825,755.8 822.5,753.9 L786.5,753.9 Q784.5,755.8 781.5,756.1 Q778.2,756.4 778.2,753.4 Z" stroke="#0c0440" stroke-width="1.2" fill="#3d22dd" />
<path d="M796.4,730.6 L793.4,730.6 Q786.6,730.6 786.6,737.4 L786.6,743.4 Q786.6,750.2 793.4,750.2 L796.4,750.2 L796.4,746.3 L794.6,746.3 Q792,746.3 792,743.8 L792,742.1 L792,738.5 L792,737 Q792,734.3 794.6,734.3 L796.4,734.3 Z" stroke="#0c0440" stroke-width="0.9" fill="#fff" />
<rect x="796.4" y="730.6" width="29.2" height="3.7" stroke="#0c0440" stroke-width="0.9" fill="#fff" rx="1.8"/>
<rect x="792" y="738.5" width="20.6" height="3.6" stroke="#0c0440" stroke-width="0.9" fill="#fff" rx="1.8"/>
<rect x="796.4" y="746.3" width="29.2" height="3.9" stroke="#0c0440" stroke-width="0.9" fill="#fff" rx="1.8"/>
<line x1="786.6" y1="736.5" x2="792" y2="736.5" stroke="#0c0440" stroke-width="0.8" />
<line x1="786.6" y1="745" x2="792" y2="745" stroke="#0c0440" stroke-width="0.8" />
<circle cx="821.1" cy="732.5" r="1.5" stroke="#0c0440" stroke-width="0.5" fill="#3d22dd" />
<circle cx="808.2" cy="740.3" r="1.5" stroke="#0c0440" stroke-width="0.5" fill="#3d22dd" />
<circle cx="821.1" cy="748.3" r="1.5" stroke="#0c0440" stroke-width="0.5" fill="#3d22dd" />
<text x="834.6" y="752.7" class="logo" font-size="40" textLength="74" lengthAdjust="spacingAndGlyphs" >ELITE</text>
<rect x="833" y="753.4" width="77.5" height="2.6" stroke="#105" stroke-width="0.6" fill="#2a18b0" />
</g>
<g id="drawing" stroke-linecap="butt" stroke-linejoin="miter">
<rect x="322.6" y="154.4" width="186.8" height="93.4" stroke="#111" stroke-width="1.3" fill="none" />
<line x1="322.6" y1="189" x2="509.4" y2="189" stroke="#111" stroke-width="1.3" />
<line x1="296.3" y1="201.8" x2="524.4" y2="201.8" stroke="#555" stroke-width="0.7" stroke-dasharray="7 1 1.5 1"/>
<rect x="307.3" y="155.8" width="15.3" height="90.6" stroke="#111" stroke-width="1.3" fill="none" />
<line x1="310.4" y1="155.8" x2="310.4" y2="246.4" stroke="#111" stroke-width="1.3" />
<rect x="302.3" y="158.8" width="5.0" height="12.9" stroke="#111" stroke-width="1.3" fill="none" />
<rect x="302.3" y="230.9" width="5.0" height="12.5" stroke="#111" stroke-width="1.3" fill="none" />
<path d="M302.2,165.6 L296.3,170.7 L296.3,223.8 L302.3,228.7 L307.3,228.7" stroke="#111" stroke-width="1.3" fill="none" />
<rect x="509.4" y="155.8" width="15.2" height="90.6" stroke="#111" stroke-width="1.3" fill="none" />
<line x1="521.6" y1="155.8" x2="521.6" y2="246.4" stroke="#111" stroke-width="1.3" />
<rect x="524.6" y="158.8" width="5.0" height="12.9" stroke="#111" stroke-width="1.3" fill="none" />
<rect x="524.6" y="230.9" width="5.0" height="12.5" stroke="#111" stroke-width="1.3" fill="none" />
<path d="M529.6,171.6 L535.5,176.5 L535.5,225.9 L529.7,230.5" stroke="#111" stroke-width="1.3" fill="none" />
<circle cx="403.5" cy="170" r="4.4" stroke="#111" stroke-width="1.3" fill="none" />
<line x1="398.0" y1="170" x2="409.0" y2="170" stroke="#111" stroke-width="0.8" />
<line x1="403.5" y1="164.5" x2="403.5" y2="175.5" stroke="#111" stroke-width="0.8" />
<circle cx="426.8" cy="170" r="4.4" stroke="#111" stroke-width="1.3" fill="none" />
<line x1="421.3" y1="170" x2="432.3" y2="170" stroke="#111" stroke-width="0.8" />
<line x1="426.8" y1="164.5" x2="426.8" y2="175.5" stroke="#111" stroke-width="0.8" />
<path d="M319,99.4 L291,99.4 Q287.1,99.4 287.1,103.4 L287.1,254.5 Q287.1,258.5 291.1,258.5 L405,258.5 Q409.4,258.5 409.4,254 L409.4,239.2" stroke="#111" stroke-width="1.3" fill="none" />
<path d="M319,102.3 L293,102.3 Q290.2,102.3 290.2,105 L290.2,253 Q290.2,255.6 293,255.6 L404.5,255.6 Q407.3,255.6 407.3,253 L407.3,239.2" stroke="#111" stroke-width="1.3" fill="none" />
<path d="M369.6,107.5 L369.6,151.9 L383.7,151.9" stroke="#111" stroke-width="1.3" fill="none" />
<path d="M373.4,107.5 L373.4,149 L383.7,149" stroke="#111" stroke-width="1.3" fill="none" />
<rect x="327.6" y="70.6" width="14.7" height="13.4" stroke="#111" stroke-width="1.3" fill="#fff" rx="1.5"/>
<line x1="330" y1="71" x2="330" y2="84" stroke="#222" stroke-width="1.2" />
<line x1="332.5" y1="71" x2="332.5" y2="84" stroke="#222" stroke-width="1.2" />
<line x1="335" y1="71" x2="335" y2="84" stroke="#222" stroke-width="1.2" />
<line x1="337.5" y1="71" x2="337.5" y2="84" stroke="#222" stroke-width="1.2" />
<line x1="340" y1="71" x2="340" y2="84" stroke="#222" stroke-width="1.2" />
<rect x="325.3" y="84" width="19.9" height="5" stroke="#111" stroke-width="1.3" fill="#222" />
<rect x="328" y="85.3" width="1.8" height="2.3" stroke="none" stroke-width="0" fill="#ddd" />
<rect x="331.5" y="85.3" width="1.8" height="2.3" stroke="none" stroke-width="0" fill="#ddd" />
<rect x="335" y="85.3" width="1.8" height="2.3" stroke="none" stroke-width="0" fill="#ddd" />
<rect x="338.5" y="85.3" width="1.8" height="2.3" stroke="none" stroke-width="0" fill="#ddd" />
<rect x="342" y="85.3" width="1.8" height="2.3" stroke="none" stroke-width="0" fill="#ddd" />
<rect x="345.2" y="82.6" width="9.0" height="6.7" stroke="#111" stroke-width="1.3" fill="#fff" rx="1.5"/>
<circle cx="350.2" cy="85.8" r="1.9" stroke="#111" stroke-width="0.9" fill="none" />
<rect x="325.3" y="89" width="20.7" height="24.8" stroke="#111" stroke-width="1.3" fill="#fff" />
<rect x="346" y="97" width="3.5" height="9" stroke="#111" stroke-width="0.8" fill="#333" />
<rect x="319" y="99" width="6.3" height="5.4" stroke="#111" stroke-width="0.8" fill="#222" />
<circle cx="336.7" cy="101.6" r="9.5" stroke="#111" stroke-width="1.6" fill="#fff" />
<circle cx="336.7" cy="101.6" r="7.1" stroke="#111" stroke-width="0.9" fill="none" />
<path d="M331.5,103.5 L339.5,99.8 M336.7,101.6 L336.7,108 M331,101.5 L333,101 M340,97 L341.5,98.5" stroke="#111" stroke-width="0.9" fill="none" />
<rect x="326.1" y="113.8" width="17.9" height="7.4" stroke="#111" stroke-width="1.3" fill="#fff" />
<rect x="327.6" y="115.2" width="2.2" height="6.0" stroke="none" stroke-width="0" fill="#222" />
<rect x="334.3" y="115.2" width="2.2" height="6.0" stroke="none" stroke-width="0" fill="#222" />
<rect x="340.5" y="115.2" width="2.2" height="6.0" stroke="none" stroke-width="0" fill="#222" />
<path d="M326.1,121.2 L326.1,135 Q326.1,141.6 332,141.6 L338,141.6 Q344,141.6 344,135 L344,121.2" stroke="#111" stroke-width="1.3" fill="#fff" />
<line x1="329.8" y1="121.2" x2="329.8" y2="139" stroke="#111" stroke-width="0.8" />
<line x1="340.3" y1="121.2" x2="340.3" y2="139" stroke="#111" stroke-width="0.8" />
<line x1="335" y1="121.2" x2="335" y2="141.6" stroke="#111" stroke-width="0.7" />
<path d="M332,141.8 L338,141.8 L337,146 L335,151.3 L333,146 Z" stroke="#111" stroke-width="0.8" fill="#111" />
<path d="M358.3,89.3 L358.3,86.5 Q358.3,82 362.3,81.2 Q366.4,82 366.4,86.5 L366.4,89.3 Z" stroke="#111" stroke-width="1.3" fill="#fff" />
<line x1="362.3" y1="81.2" x2="362.3" y2="89.3" stroke="#111" stroke-width="0.7" />
<rect x="354.2" y="89.3" width="15.5" height="3.3" stroke="#111" stroke-width="1.3" fill="#222" />
<rect x="352.6" y="92.6" width="16.8" height="14.7" stroke="#111" stroke-width="1.3" fill="#fff" />
<rect x="356" y="95" width="10" height="3.5" stroke="#111" stroke-width="0.8" fill="none" />
<rect x="356.5" y="98.5" width="9.0" height="8.8" stroke="#111" stroke-width="0.8" fill="none" />
<line x1="358.5" y1="104.5" x2="363.5" y2="104.5" stroke="#111" stroke-width="1.5" />
<rect x="346" y="99" width="6.6" height="5.4" stroke="#111" stroke-width="0.8" fill="#333" />
<rect x="369.4" y="99.6" width="10.9" height="4.2" stroke="#111" stroke-width="1.3" fill="#fff" rx="1.5"/>
<rect x="369.4" y="98.8" width="3.1" height="5.8" stroke="#111" stroke-width="0.8" fill="#fff" />
<rect x="349.3" y="107.3" width="20.4" height="5.7" stroke="#111" stroke-width="1.3" fill="#fff" />
<rect x="350.4" y="113" width="17.6" height="6.5" stroke="#111" stroke-width="1.3" fill="#fff" />
<rect x="351.5" y="114.2" width="2.2" height="5.3" stroke="none" stroke-width="0" fill="#222" />
<rect x="358" y="114.2" width="2.2" height="5.3" stroke="none" stroke-width="0" fill="#222" />
<rect x="364.5" y="114.2" width="2.2" height="5.3" stroke="none" stroke-width="0" fill="#222" />
<path d="M350.4,119.5 L350.4,136 Q350.4,142.4 356,142.4 L362.4,142.4 Q368,142.4 368,136 L368,119.5" stroke="#111" stroke-width="1.3" fill="#fff" />
<line x1="354" y1="119.5" x2="354" y2="140" stroke="#111" stroke-width="0.8" />
<line x1="364.4" y1="119.5" x2="364.4" y2="140" stroke="#111" stroke-width="0.8" />
<line x1="359.2" y1="107.3" x2="359.2" y2="142.4" stroke="#111" stroke-width="0.7" />
<rect x="357" y="142.4" width="4.6" height="2.4" stroke="#111" stroke-width="0.8" fill="#fff" />
<path d="M397.3,121.2 Q398.3,111 408,107.2 Q415.3,104.6 422.8,107.2 Q432.8,111 435.6,121.2 Z" stroke="#111" stroke-width="1.3" fill="#fff" />
<path d="M407.2,121 Q408.5,111 415.3,105.8 Q422.5,111 425.5,121" stroke="#111" stroke-width="0.8" fill="none" />
<rect x="397.3" y="120.1" width="38.3" height="2.1" stroke="#111" stroke-width="0.6" fill="#444" />
<path d="M383.2,126.3 L397.3,122.2 L435.6,122.2 L446.7,125.3 L446.7,135.6 L383.2,135.6 Z" stroke="#111" stroke-width="1.3" fill="#fff" />
<path d="M394.4,135.6 L394.4,128.4 L435,128.4 L435,135.6" stroke="#111" stroke-width="1.3" fill="none" />
<circle cx="440.7" cy="130.6" r="2.8" stroke="#111" stroke-width="0.9" fill="none" />
<line x1="437.2" y1="130.6" x2="444.2" y2="130.6" stroke="#111" stroke-width="0.7" />
<line x1="440.7" y1="127.2" x2="440.7" y2="134" stroke="#111" stroke-width="0.7" />
<line x1="394.8" y1="137" x2="437.8" y2="137" stroke="#111" stroke-width="1.3" />
<path d="M392.6,135.6 L392.6,151.9 L383.7,151.9 L383.7,149" stroke="#111" stroke-width="1.3" fill="none" />
<line x1="394.8" y1="135.6" x2="394.8" y2="154.4" stroke="#111" stroke-width="1.3" />
<line x1="437.8" y1="135.6" x2="437.8" y2="154.4" stroke="#111" stroke-width="1.3" />
<path d="M440.1,135.6 L440.1,151.9 L453.7,151.9 L453.7,154.4" stroke="#111" stroke-width="1.3" fill="none" />
<rect x="408.8" y="135.6" width="14.2" height="12.3" stroke="#111" stroke-width="1.6" fill="#fff" />
<line x1="408.8" y1="136.3" x2="423" y2="136.3" stroke="#111" stroke-width="1.6" />
<line x1="412.1" y1="137" x2="412.1" y2="147.9" stroke="#111" stroke-width="0.8" />
<line x1="419.5" y1="137" x2="419.5" y2="147.9" stroke="#111" stroke-width="0.8" />
<path d="M413.6,140.5 L414.6,144.6 L417.2,143.2 L418.4,140.5" stroke="#111" stroke-width="0.9" fill="none" />
<rect x="402.2" y="148.4" width="27.6" height="2.2" stroke="#111" stroke-width="1.3" fill="#fff" />
<rect x="399.3" y="150.6" width="33.4" height="3.8" stroke="#111" stroke-width="1.3" fill="#fff" />
<rect x="386.2" y="214.7" width="52.8" height="20.4" stroke="#111" stroke-width="1.3" fill="#fff" rx="1.2"/>
<line x1="390.1" y1="214.7" x2="390.1" y2="235.1" stroke="#111" stroke-width="1.3" />
<line x1="428" y1="214.7" x2="428" y2="235.1" stroke="#111" stroke-width="1.3" />
<rect x="439.4" y="205.7" width="11.4" height="11.9" stroke="#111" stroke-width="1.3" fill="#fff" />
<rect x="439.4" y="217.6" width="11.8" height="11.4" stroke="#111" stroke-width="1.3" fill="#fff" />
<rect x="431.4" y="205.5" width="3.1" height="7.2" stroke="#111" stroke-width="0.8" fill="#222" />
<rect x="434.5" y="205.5" width="4.9" height="7.2" stroke="#111" stroke-width="1.3" fill="#fff" />
<rect x="451.2" y="220.4" width="2.4" height="9.0" stroke="#111" stroke-width="0.8" fill="#333" />
<path d="M396.4,214.7 L396.4,210.5 Q398,208 399.6,210.5 L399.6,214.7 Z" stroke="#111" stroke-width="0.8" fill="#222" />
<path d="M418.4,214.7 L418.4,210.5 Q420,208 421.6,210.5 L421.6,214.7 Z" stroke="#111" stroke-width="0.8" fill="#222" />
<path d="M421.5,214.7 Q423,217 425,215" stroke="#111" stroke-width="0.8" fill="none" />
<circle cx="405" cy="207.6" r="2.1" stroke="#111" stroke-width="0.9" fill="#fff" />
<circle cx="414.9" cy="207.6" r="2.1" stroke="#111" stroke-width="0.9" fill="#fff" />
<circle cx="414.9" cy="241.8" r="2.1" stroke="#111" stroke-width="0.9" fill="#fff" />
<circle cx="425.3" cy="241.8" r="2.1" stroke="#111" stroke-width="0.9" fill="#fff" />
<path d="M413.59999999999997,218.5 L415.2,216.9 L416.8,218.5 L415.2,220.1 Z" stroke="#111" stroke-width="0.5" fill="#111" />
<path d="M401.9,231.5 L403.5,229.9 L405.1,231.5 L403.5,233.1 Z" stroke="#111" stroke-width="0.5" fill="#111" />
<rect x="406.8" y="235.1" width="3.7" height="4.1" stroke="#111" stroke-width="1.2" fill="#fff" />
<path d="M400.2,247.6 L365.5,247.6 Q357.5,247.6 357.5,255.6 L357.5,312 Q357.5,320.1 365.5,320.1 L464.9,320.1 Q472.9,320.1 472.9,312 L472.9,255.6 Q472.9,247.6 464.9,247.6 L430.2,247.6" stroke="#111" stroke-width="1.3" fill="none" />
<path d="M400.2,251.9 L367,251.9 Q361.9,251.9 361.9,257 L361.9,310.7 Q361.9,315.8 367,315.8 L463.5,315.8 Q468.6,315.8 468.6,310.7 L468.6,257 Q468.6,251.9 463.5,251.9 L430.2,251.9" stroke="#111" stroke-width="1.3" fill="none" />
<line x1="377.1" y1="246" x2="377.1" y2="254.5" stroke="#111" stroke-width="1.3" />
<line x1="454" y1="246" x2="454" y2="254.5" stroke="#111" stroke-width="1.3" />
<line x1="400.2" y1="247.8" x2="400.2" y2="256.2" stroke="#111" stroke-width="1.3" />
<line x1="430.3" y1="247.8" x2="430.3" y2="256.2" stroke="#111" stroke-width="1.3" />
<path d="M394.2,256.2 L436.3,256.2 L436.3,293.4 L427.3,293.4 L427.3,271.3 L403.1,271.3 L403.1,293.4 L394.2,293.4 Z" stroke="#111" stroke-width="1.3" fill="#fff" />
<rect x="406.5" y="272.2" width="17.0" height="26.3" stroke="#111" stroke-width="1" fill="#fff" />
<line x1="406.5" y1="272.2" x2="423.5" y2="298.5" stroke="#111" stroke-width="0.8" />
<line x1="406.5" y1="298.5" x2="423.5" y2="272.2" stroke="#111" stroke-width="0.8" />
<rect x="403.1" y="293.4" width="3.4" height="4.9" stroke="#111" stroke-width="0.8" fill="#222" />
<rect x="423.5" y="293.4" width="3.8" height="4.9" stroke="#111" stroke-width="0.8" fill="#222" />
<path d="M388.2,298.2 L402.4,298.2 L402.4,320.8 L396.4,320.8 L396.4,313.6 L396.2,310.4 L388.2,310.4 Z" stroke="#111" stroke-width="1.3" fill="url(#hg)" />
<path d="M428.6,298.2 L442,298.2 L442,310.4 L435.5,310.4 L435.3,313.6 L433.6,320.8 L428.6,320.8 Z" stroke="#111" stroke-width="1.3" fill="url(#hg)" />
<path d="M538.4,399.3 L538.4,377.5 L535.4,377.5 L535.4,344.4 Q535.4,342.9 533.9,342.9 L510.1,342.9 Q508.6,342.9 508.6,344.4 L508.6,376.5 Q507.5,383.5 500.5,385.6 Q489,388.5 478,387 Q472,386 469,381.8 Q466.5,379.6 458,379.4 Q446.5,376 442.9,366 L442.9,332.4 L465.5,332.4 L465.5,320.1 L433.6,320.1 L433.6,338.2 L428.6,338.2 L428.6,362.4 L432.4,362.4 L432.4,376.8 L425.4,376.8 L425.4,394.7 L405.5,394.7 L405.5,376.8 L398.5,376.8 L398.5,362.4 L402.4,362.4 L402.4,338.2 L396.4,338.2 L396.4,320.1 L365.7,320.1 L365.7,332.4 L385,332.4 Q387.5,332.5 387.5,335 L387.5,340 Q387.5,342.3 385,342.3 L382.6,342.3 L381.6,344.3 L381.6,376.5 L391,376.5 L391,380.5 Q384,384 378,390.1 L377.6,399.3 Z" stroke="#111" stroke-width="1.3" fill="url(#ha)" />
<path d="M277.6,399.3 L277.6,377.8 L280.6,377.8 L280.6,344.4 Q280.6,342.9 282.1,342.9 L306.3,342.9 Q307.8,342.9 307.8,344.4 L307.8,378 Q309,386.3 320,387.4 L345,387.9 Q352,387.6 354.6,380 Q356,374.6 358.5,373.8 L359.6,373.8 L359.6,344.3 L381.6,344.3 L381.6,376.5 L391,376.5 L391,380.5 Q384,384 378,390.1 L367.6,390.1 L367.6,399.3 Z" stroke="#111" stroke-width="1.3" fill="url(#hb)" />
<path d="M309.5,380 Q312,385.4 322,385.6 L345,385.8 Q350.5,385.3 353,379" stroke="#111" stroke-width="0.8" fill="none" />
<path d="M505.5,381.5 Q500,384 490,384.6 L478,384.8 Q474,384 471.2,381.2" stroke="#111" stroke-width="0.8" fill="none" />
<line x1="383.4" y1="344.3" x2="383.4" y2="376.5" stroke="#111" stroke-width="0.8" />
<path d="M538.3,460.5 L538.3,482.2 L534.8,482.2 L534.8,515.1 Q534.8,516.6 533.3,516.6 L510.4,516.6 Q508.9,516.6 508.9,515.1 L508.9,483.6 Q507.5,476.5 501.4,473.6 Q492,469.6 485.2,469.8 L479,470.2 Q475,471 472,476.4 Q469,479 466.9,478.6 Q458,480 450.7,483.6 Q440,489.5 430.4,491.7 Q418,494.6 403.9,494.8 L381.6,494.8 L381.6,488.8 L391.5,488.8 L391.5,482.8 Q383,478 377.6,469.5 L377.6,460.5 Z" stroke="#111" stroke-width="1.3" fill="url(#ha)" />
<path d="M277.6,460.5 L277.6,481.9 L280.6,481.9 L280.6,515.2 Q280.6,516.7 282.1,516.7 L306.3,516.7 Q307.8,516.7 307.8,515.2 L307.8,481.5 Q308.5,476 313,474.4 Q322,470.5 331,470 L346,470 Q352,470.6 355.5,477.5 Q358,483.5 358.6,486 L359.6,490.2 L359.6,494.8 L381.6,494.8 L381.6,488.8 L391.5,488.8 L391.5,482.8 Q383,478 377.6,469.5 L367.6,469.5 L367.6,460.5 Z" stroke="#111" stroke-width="1.3" fill="url(#hb)" />
<path d="M309.3,479.5 Q311,473.5 318,471.5 Q325,468.2 333,467.9 L347,468 Q353.5,468.5 357,475" stroke="#111" stroke-width="0.8" fill="none" />
<path d="M506.5,481 Q504,476 498,473.6 Q491,471.5 485,471.6 L480,472 Q476.5,473 474,477.5" stroke="#111" stroke-width="0.8" fill="none" />
<rect x="381.6" y="482.8" width="9.9" height="6.0" stroke="#111" stroke-width="0.9" fill="#fff" />
<rect x="359.6" y="507.8" width="22.0" height="7.5" stroke="#111" stroke-width="1.3" fill="url(#hb)" />
<rect x="381.6" y="507.8" width="22.3" height="7.5" stroke="#111" stroke-width="1.3" fill="url(#ha)" />
<rect x="280.6" y="490.2" width="27.2" height="18.6" stroke="none" stroke-width="0" fill="#fff" />
<line x1="280.6" y1="490.2" x2="307.8" y2="490.2" stroke="#111" stroke-width="1.3" />
<line x1="280.6" y1="508.8" x2="307.8" y2="508.8" stroke="#111" stroke-width="1.3" />
<rect x="508.9" y="489.7" width="25.9" height="18.8" stroke="none" stroke-width="0" fill="#fff" />
<line x1="508.9" y1="489.7" x2="534.8" y2="489.7" stroke="#111" stroke-width="1.3" />
<line x1="508.9" y1="508.5" x2="534.8" y2="508.5" stroke="#111" stroke-width="1.3" />
<line x1="280.6" y1="490.2" x2="280.6" y2="508.8" stroke="#111" stroke-width="1.3" />
<line x1="307.8" y1="490.2" x2="307.8" y2="508.8" stroke="#111" stroke-width="1.3" />
<line x1="508.9" y1="489.7" x2="508.9" y2="508.5" stroke="#111" stroke-width="1.3" />
<line x1="534.8" y1="489.7" x2="534.8" y2="508.5" stroke="#111" stroke-width="1.3" />
<line x1="277.6" y1="399.3" x2="538.4" y2="399.3" stroke="#111" stroke-width="1.3" />
<line x1="277.6" y1="460.5" x2="538.4" y2="460.5" stroke="#111" stroke-width="1.3" />
<line x1="277.6" y1="399.3" x2="277.6" y2="460.5" stroke="#111" stroke-width="1.3" />
<line x1="538.4" y1="399.3" x2="538.4" y2="460.5" stroke="#111" stroke-width="1.3" />
<path d="M377.6,467 Q394,484 415.4,484.9 Q438,484.2 452.4,468" stroke="#111" stroke-width="3.4" fill="none" />
<path d="M377.6,467 Q394,484 415.4,484.9 Q438,484.2 452.4,468" stroke="#fff" stroke-width="1.7" fill="none" />
<path d="M377.8,390.5 Q386,381.5 398.3,377.6" stroke="#111" stroke-width="3.4" fill="none" />
<path d="M377.8,390.5 Q386,381.5 398.3,377.6" stroke="#fff" stroke-width="1.7" fill="none" />
<path d="M432.6,377.6 Q444,380.5 453,391" stroke="#111" stroke-width="3.4" fill="none" />
<path d="M432.6,377.6 Q444,380.5 453,391" stroke="#fff" stroke-width="1.7" fill="none" />
<rect x="402.4" y="298.5" width="26.2" height="63.9" stroke="none" stroke-width="0" fill="#fff" />
<line x1="402.4" y1="298.5" x2="402.4" y2="362.4" stroke="#111" stroke-width="1.3" />
<line x1="428.6" y1="298.5" x2="428.6" y2="362.4" stroke="#111" stroke-width="1.3" />
<path d="M402.4,362.4 L398.5,362.4 L398.5,376.8 L405.5,376.8 L405.5,394.7 L425.4,394.7 L425.4,376.8 L432.4,376.8 L432.4,362.4 L428.6,362.4" stroke="#111" stroke-width="1.3" fill="#fff" />
<line x1="398.5" y1="362.4" x2="432.4" y2="362.4" stroke="#111" stroke-width="1.3" />
<line x1="405.5" y1="392.8" x2="425.4" y2="392.8" stroke="#111" stroke-width="0.8" />
<rect x="408" y="384.4" width="6" height="4.2" stroke="#111" stroke-width="0.7" fill="#333" />
<line x1="405" y1="386.5" x2="418" y2="386.5" stroke="#111" stroke-width="0.7" />
<rect x="396.4" y="320.8" width="6.0" height="17.4" stroke="#111" stroke-width="0.9" fill="#fff" />
<line x1="396.4" y1="320.8" x2="402.4" y2="338.2" stroke="#111" stroke-width="0.7200000000000001" />
<line x1="396.4" y1="338.2" x2="402.4" y2="320.8" stroke="#111" stroke-width="0.7200000000000001" />
<rect x="428.6" y="320.8" width="5.0" height="17.4" stroke="#111" stroke-width="0.9" fill="#fff" />
<line x1="428.6" y1="320.8" x2="433.6" y2="338.2" stroke="#111" stroke-width="0.7200000000000001" />
<line x1="428.6" y1="338.2" x2="433.6" y2="320.8" stroke="#111" stroke-width="0.7200000000000001" />
<path d="M367.4,390 L377.4,390 L377.4,394 L374.5,398.6 L367.4,398.6 Z" stroke="#111" stroke-width="0.6" fill="#111" />
<path d="M367.4,469.8 L377.4,469.8 L377.4,465.6 L374.5,461.2 L367.4,461.2 Z" stroke="#111" stroke-width="0.6" fill="#111" />
<path d="M463,390 L452.6,390 L452.6,394 L455.5,398.6 L463,398.6 Z" stroke="#111" stroke-width="0.6" fill="#111" />
<path d="M463,469.8 L452.6,469.8 L452.6,465.6 L455.5,461.2 L463,461.2 Z" stroke="#111" stroke-width="0.6" fill="#111" />
<rect x="371" y="398.6" width="3.8" height="62.6" stroke="none" stroke-width="0" fill="#666" />
<line x1="371" y1="398.6" x2="371" y2="461.2" stroke="#111" stroke-width="0.8" />
<line x1="373.9" y1="398.6" x2="373.9" y2="461.2" stroke="#000" stroke-width="2.1" />
<rect x="455" y="398.6" width="3.8" height="62.6" stroke="none" stroke-width="0" fill="#666" />
<line x1="458.8" y1="398.6" x2="458.8" y2="461.2" stroke="#111" stroke-width="0.8" />
<line x1="456" y1="398.6" x2="456" y2="461.2" stroke="#000" stroke-width="2.1" />
<rect x="346.1" y="346.7" width="13.6" height="22.2" stroke="#111" stroke-width="1.3" fill="#fff" />
<rect x="342.7" y="351.7" width="3.4" height="12.2" stroke="#111" stroke-width="1.8" fill="#fff" />
<line x1="346.1" y1="352.4" x2="359.6" y2="352.4" stroke="#111" stroke-width="1" />
<line x1="346.1" y1="363.1" x2="359.6" y2="363.1" stroke="#111" stroke-width="1" />
<line x1="338" y1="357.8" x2="397" y2="357.8" stroke="#111" stroke-width="1" stroke-dasharray="7 2.5"/>
<rect x="359.6" y="494.8" width="44.3" height="13.0" stroke="#111" stroke-width="1.3" fill="#fff" />
<line x1="359.6" y1="496.6" x2="403.9" y2="496.6" stroke="#111" stroke-width="0.8" />
<line x1="359.6" y1="506" x2="403.9" y2="506" stroke="#111" stroke-width="0.8" />
<rect x="346.1" y="490.2" width="13.5" height="21.9" stroke="#111" stroke-width="1.3" fill="#fff" />
<rect x="342.7" y="495" width="3.4" height="13" stroke="#111" stroke-width="1.8" fill="#fff" />
<line x1="346.1" y1="495.6" x2="359.6" y2="495.6" stroke="#111" stroke-width="0.8" />
<line x1="346.1" y1="507" x2="359.6" y2="507" stroke="#111" stroke-width="0.8" />
<line x1="381.6" y1="507.8" x2="381.6" y2="515.3" stroke="#111" stroke-width="1.3" />
<line x1="338" y1="501.4" x2="401" y2="501.4" stroke="#111" stroke-width="0.8" stroke-dasharray="12 2.5 2.5 2.5"/>
<line x1="273" y1="429.6" x2="545" y2="429.6" stroke="#111" stroke-width="0.9" stroke-dasharray="18 3 3 3"/>
<line x1="278" y1="359.9" x2="311" y2="359.9" stroke="#111" stroke-width="0.9" stroke-dasharray="13 3 3 3"/>
<line x1="505.6" y1="359.9" x2="538" y2="359.9" stroke="#111" stroke-width="0.9" stroke-dasharray="13 3 3 3"/>
<line x1="279" y1="499.4" x2="310" y2="499.4" stroke="#111" stroke-width="0.9" stroke-dasharray="13 3 3 3"/>
<line x1="505" y1="499.2" x2="538" y2="499.2" stroke="#111" stroke-width="0.9" stroke-dasharray="13 3 3 3"/>
<line x1="415.35" y1="99" x2="415.35" y2="512" stroke="#111" stroke-width="0.9" stroke-dasharray="16 3 3 3"/>
<line x1="535.5" y1="342.9" x2="620" y2="342.9" stroke="#111" stroke-width="1.0" />
<line x1="535.5" y1="516.6" x2="620" y2="516.6" stroke="#111" stroke-width="1.0" />
<line x1="613.6" y1="342.9" x2="613.6" y2="516.6" stroke="#111" stroke-width="1.0" />
<polygon points="613.6,342.9 612.25,349.9 614.95,349.9" fill="#111"/>
<polygon points="613.6,516.6 612.25,509.6 614.95,509.6" fill="#111"/>
<g transform="translate(611,436) rotate(-90)">
<text x="0" y="0" class="n" font-size="14" textLength="12.5" lengthAdjust="spacingAndGlyphs" >ØD</text>
</g>
<line x1="538" y1="359.9" x2="602" y2="359.9" stroke="#111" stroke-width="1.0" />
<line x1="538" y1="499.2" x2="602" y2="499.2" stroke="#111" stroke-width="1.0" />
<line x1="596.3" y1="359.9" x2="596.3" y2="499.2" stroke="#111" stroke-width="1.0" />
<polygon points="596.3,359.9 594.9499999999999,366.9 597.65,366.9" fill="#111"/>
<polygon points="596.3,499.2 594.9499999999999,492.2 597.65,492.2" fill="#111"/>
<g transform="translate(593,436) rotate(-90)">
<text x="0" y="0" class="n" font-size="14" textLength="12.5" lengthAdjust="spacingAndGlyphs" >ØK</text>
</g>
<line x1="538.4" y1="377.4" x2="583.4" y2="377.4" stroke="#111" stroke-width="1.0" />
<line x1="538.4" y1="482.2" x2="583.4" y2="482.2" stroke="#111" stroke-width="1.0" />
<line x1="578" y1="377.4" x2="578" y2="482.2" stroke="#111" stroke-width="1.0" />
<polygon points="578,377.4 576.65,384.4 579.35,384.4" fill="#111"/>
<polygon points="578,482.2 576.65,475.2 579.35,475.2" fill="#111"/>
<g transform="translate(575,436) rotate(-90)">
<text x="0" y="0" class="n" font-size="14" textLength="12.5" lengthAdjust="spacingAndGlyphs" >ØB</text>
</g>
<line x1="538.4" y1="399.3" x2="564.5" y2="399.3" stroke="#111" stroke-width="1.0" />
<line x1="538.4" y1="460.5" x2="564.5" y2="460.5" stroke="#111" stroke-width="1.0" />
<line x1="558.8" y1="399.3" x2="558.8" y2="460.5" stroke="#111" stroke-width="1.0" />
<polygon points="558.8,399.3 557.4499999999999,406.3 560.15,406.3" fill="#111"/>
<polygon points="558.8,460.5 557.4499999999999,453.5 560.15,453.5" fill="#111"/>
<g transform="translate(555.8,436) rotate(-90)">
<text x="0" y="0" class="n" font-size="14" textLength="12.5" lengthAdjust="spacingAndGlyphs" >Ød</text>
</g>
<line x1="482.1" y1="489.7" x2="508.9" y2="489.7" stroke="#111" stroke-width="1.0" />
<line x1="482.1" y1="508.5" x2="508.9" y2="508.5" stroke="#111" stroke-width="1.0" />
<line x1="495.9" y1="473.5" x2="495.9" y2="524.8" stroke="#111" stroke-width="1.0" />
<polygon points="495.9,489.7 494.54999999999995,482.7 497.25,482.7" fill="#111"/>
<polygon points="495.9,508.5 494.54999999999995,515.5 497.25,515.5" fill="#111"/>
<g transform="translate(493.8,510) rotate(-90)">
<text x="0" y="0" class="n" font-size="12" textLength="20" lengthAdjust="spacingAndGlyphs" >n-Øl</text>
</g>
<line x1="518.2" y1="540.8" x2="534.8" y2="540.8" stroke="#111" stroke-width="1.0" />
<line x1="538.3" y1="540.8" x2="561.2" y2="540.8" stroke="#111" stroke-width="1.0" />
<polygon points="534.8,540.8 529.3,539.4499999999999 529.3,542.15" fill="#111"/>
<polygon points="538.3,540.8 543.8,539.4499999999999 543.8,542.15" fill="#111"/>
<text x="556.3" y="539" class="n" font-size="14" textLength="3.5" lengthAdjust="spacingAndGlyphs" >f</text>
<line x1="508.9" y1="516.6" x2="508.9" y2="569.8" stroke="#111" stroke-width="1.0" />
<line x1="534.8" y1="516.6" x2="534.8" y2="569.8" stroke="#111" stroke-width="1.0" />
<line x1="508.9" y1="563.7" x2="534.8" y2="563.7" stroke="#111" stroke-width="1.0" />
<polygon points="508.9,563.7 514.4,562.35 514.4,565.0500000000001" fill="#111"/>
<polygon points="534.8,563.7 529.3,562.35 529.3,565.0500000000001" fill="#111"/>
<text x="521.6" y="561.7" class="n" font-size="15" textLength="4.7" lengthAdjust="spacingAndGlyphs" >C</text>
<line x1="538.3" y1="482" x2="538.3" y2="591.7" stroke="#111" stroke-width="1.0" />
<line x1="277.8" y1="482" x2="277.8" y2="591.7" stroke="#111" stroke-width="1.0" />
<line x1="277.8" y1="586" x2="538.3" y2="586" stroke="#111" stroke-width="1.0" />
<polygon points="277.8,586 284.8,584.65 284.8,587.35" fill="#111"/>
<polygon points="538.3,586 531.3,584.65 531.3,587.35" fill="#111"/>
<text x="379.8" y="583.5" class="n" font-size="15" textLength="37.4" lengthAdjust="spacingAndGlyphs" >LENGTH</text>
<text x="430" y="583.5" class="n" font-size="15" textLength="5.6" lengthAdjust="spacingAndGlyphs" >L</text>
<path d="M229.3,230.9 L250.9,230.9 L362.5,223.5" stroke="#222" stroke-width="1.05" fill="none" />
<path d="M229.3,262.2 L250.9,262.2 L362.1,275.3" stroke="#222" stroke-width="1.05" fill="none" />
<path d="M229.3,293.3 L250.9,293.3 L394,286.3" stroke="#222" stroke-width="1.05" fill="none" />
<path d="M229.3,324.6 L250.9,324.6 L395.4,313.2" stroke="#222" stroke-width="1.05" fill="none" />
<path d="M229.3,355.9 L251.9,355.9 L396,329.5" stroke="#222" stroke-width="1.05" fill="none" />
<path d="M229.3,387.4 L251.9,387.4 L404.3,371.8" stroke="#222" stroke-width="1.05" fill="none" />
<path d="M229.3,418.3 L251.9,418.3 L372.4,394.8" stroke="#222" stroke-width="1.05" fill="none" />
<path d="M229.3,449.6 L251,449.6 L370.4,464" stroke="#222" stroke-width="1.05" fill="none" />
<path d="M231.3,488.3 L253.9,488.3 L396.3,466" stroke="#222" stroke-width="1.05" fill="none" />
<path d="M231.3,526.1 L253.9,526.1 L294.7,515.8" stroke="#222" stroke-width="1.05" fill="none" />
<path d="M232.3,558.6 L254.9,558.6 L382.4,487.9" stroke="#222" stroke-width="1.05" fill="none" />
<path d="M327.6,536.1 L348.5,536.1 L355.5,511.8" stroke="#222" stroke-width="1.05" fill="none" />
<path d="M363.5,558.6 L384.4,558.6 L399.3,511.8" stroke="#222" stroke-width="1.05" fill="none" />
<path d="M327.6,554.2 L348.5,554.2 L348.5,536.1" stroke="#222" stroke-width="1.05" fill="none" />
<text x="230.6" y="230.1" class="lt" font-size="14.6" textLength="15.4" lengthAdjust="spacingAndGlyphs" >14</text>
<text x="230.6" y="261.5" class="lt" font-size="14.6" textLength="15.4" lengthAdjust="spacingAndGlyphs" >13</text>
<text x="230.6" y="292.6" class="lt" font-size="14.6" textLength="15.4" lengthAdjust="spacingAndGlyphs" >12</text>
<text x="230.6" y="322.7" class="lt" font-size="14.6" textLength="15.4" lengthAdjust="spacingAndGlyphs" >11</text>
<text x="230.6" y="354.4" class="lt" font-size="14.6" textLength="15.4" lengthAdjust="spacingAndGlyphs" >10</text>
<text x="238.6" y="384.2" class="lt" font-size="14.6" text-anchor="middle" >9</text>
<text x="238.3" y="412.7" class="lt" font-size="14.6" text-anchor="middle" >8</text>
<text x="239.7" y="445.8" class="lt" font-size="14.6" text-anchor="middle" >7</text>
<text x="240.2" y="484.9" class="lt" font-size="14.6" text-anchor="middle" >6</text>
<text x="240.7" y="522.1" class="lt" font-size="14.6" text-anchor="middle" >5</text>
<text x="241.7" y="554.7" class="lt" font-size="14.6" text-anchor="middle" >4</text>
<text x="337" y="532.1" class="lt" font-size="14.6" text-anchor="middle" >3</text>
<text x="336.6" y="551.2" class="lt" font-size="14.6" text-anchor="middle" >2</text>
<text x="373.2" y="555.2" class="lt" font-size="14.6" text-anchor="middle" >1</text>
<path d="M748.3,201.2 Q746,206 747,211.5 Q749,220.5 758.9,225.9 Q764,228.3 769.5,228.3 Q776,228.2 780.7,226.5 M748.3,201.2 Q751.5,199.6 755.3,201 Q759.5,198.8 763.6,197.4 Q767,196.5 770.6,196.5 Q775.5,196.8 780.2,198.6" stroke="#111" stroke-width="1.2" fill="none" />
<line x1="780.7" y1="198.3" x2="780.7" y2="228.3" stroke="#111" stroke-width="1.2" />
<line x1="748.3" y1="206.5" x2="753" y2="201.8" stroke="#111" stroke-width="0.8" />
<line x1="764.8" y1="207.7" x2="774.8" y2="198.3" stroke="#111" stroke-width="0.8" />
<line x1="752.4" y1="220.6" x2="757.7" y2="217.1" stroke="#111" stroke-width="0.8" />
<line x1="763.6" y1="226.5" x2="771.8" y2="218.9" stroke="#111" stroke-width="0.8" />
<path d="M757.5,208.3 L774.2,208.3 Q778.9,209 778.9,213.3 Q778.9,217.6 774.2,218.3 L757.5,218.3 L754.7,213.3 Z" stroke="#111" stroke-width="1.2" fill="#fff" />
<line x1="759.5" y1="208.8" x2="759.5" y2="217.8" stroke="#111" stroke-width="1.3" />
<line x1="762" y1="208.8" x2="762" y2="217.8" stroke="#111" stroke-width="1.3" />
<line x1="764.5" y1="208.8" x2="764.5" y2="217.8" stroke="#111" stroke-width="1.3" />
<line x1="767" y1="208.8" x2="767" y2="217.8" stroke="#111" stroke-width="1.3" />
<line x1="769.5" y1="208.8" x2="769.5" y2="217.8" stroke="#111" stroke-width="1.3" />
<line x1="772" y1="208.8" x2="772" y2="217.8" stroke="#111" stroke-width="1.3" />
<line x1="743" y1="213.3" x2="794" y2="213.3" stroke="#111" stroke-width="0.9" />
<text x="731.8" y="242.4" class="lt" font-size="11.4" textLength="99.5" lengthAdjust="spacingAndGlyphs" xml:space="preserve">Antistatic  device</text>
<rect x="871.4" y="159.2" width="87.2" height="128.9" stroke="#000" stroke-width="1.2" fill="none" />
<line x1="871.4" y1="176.3" x2="958.6" y2="176.3" stroke="#000" stroke-width="1.2" />
<text x="883.9" y="171.5" class="lt" font-size="10.8" textLength="56.4" lengthAdjust="spacingAndGlyphs" xml:space="preserve">Fire  Design</text>
<clipPath id="cc0"><circle cx="907.2" cy="197.9" r="18.1"/></clipPath>
<circle cx="907.2" cy="197.9" r="18.3" stroke="#111" stroke-width="1.3" fill="url(#hf)" />
<g clip-path="url(#cc0)">
<path d="M909.3,207.3 L910.4,208.3 L926,208.3 L926,218.0 L913.2,218.0 L911.9,214.1 Z" stroke="none" stroke-width="0" fill="#fff" />
<path d="M889.8,192.4 L911.9,214.1 L913,217.0 M909,206.6 L911.9,214.1 M909,206.8 L910.4,208.3 L926,208.3" stroke="#111" stroke-width="0.9" fill="none" />
<path d="M906.5,206.2 L909,206.6 L911.9,214.1 Z" stroke="#111" stroke-width="0.5" fill="#222" />
<line x1="897.6" y1="180.0" x2="897.6" y2="190.4" stroke="#111" stroke-width="0.9" />
</g>
<path d="M897.4,190.4 L915.1,190.4 L915.5,206.5 L909,206.5 L897.4,194.6 Z" stroke="#111" stroke-width="1.4" fill="#fff" />
<path d="M897.4,190.4 L915.1,190.4 L915.5,206.5 L909,206.5 L897.4,194.6 Z" stroke="#111" stroke-width="1.4" fill="url(#hx)" />
<text x="926" y="185.1" class="lt" font-size="5.7" textLength="25.7" lengthAdjust="spacingAndGlyphs" >Seat Ring</text>
<path d="M951.7,185.6 L950.3,187.0 L924.9,187.0 L915.5,193.1" stroke="#111" stroke-width="0.9" fill="none" />
<clipPath id="cc1"><circle cx="907.2" cy="255.2" r="18.1"/></clipPath>
<circle cx="907.2" cy="255.2" r="18.3" stroke="#111" stroke-width="1.3" fill="url(#hf)" />
<g clip-path="url(#cc1)">
<path d="M909.3,264.6 L910.4,265.6 L926,265.6 L926,275.3 L913.2,275.3 L911.9,271.4 Z" stroke="none" stroke-width="0" fill="#fff" />
<path d="M889.8,249.7 L911.9,271.4 L913,274.3 M909,263.9 L911.9,271.4 M909,264.1 L910.4,265.6 L926,265.6" stroke="#111" stroke-width="0.9" fill="none" />
<path d="M906.5,263.5 L909,263.9 L911.9,271.4 Z" stroke="#111" stroke-width="0.5" fill="#222" />
<line x1="897.6" y1="237.3" x2="897.6" y2="247.7" stroke="#111" stroke-width="0.9" />
</g>
<path d="M897.4,247.7 L915.1,247.7 L915.5,263.8 L909,263.8 L897.4,251.9 Z" stroke="#111" stroke-width="0.9" fill="#fff" />
<path d="M901,247.7 L915.1,247.7 L915.5,263.8 L911.9,263.8 Z" stroke="#111" stroke-width="1.4" fill="url(#hx)" />
<text x="926" y="242.4" class="lt" font-size="5.7" textLength="25.7" lengthAdjust="spacingAndGlyphs" >Seat Ring</text>
<path d="M951.7,242.9 L950.3,244.3 L924.9,244.3 L915.5,250.4" stroke="#111" stroke-width="0.9" fill="none" />
<text x="884.7" y="223.2" class="sf" font-size="7.6" fill="#666" textLength="59.4" lengthAdjust="spacing">Before the fire</text>
<text x="884.2" y="280.6" class="sf" font-size="7.6" fill="#666" textLength="55.6" lengthAdjust="spacing">After the fire</text>
</g>
</svg>
</body></html>
